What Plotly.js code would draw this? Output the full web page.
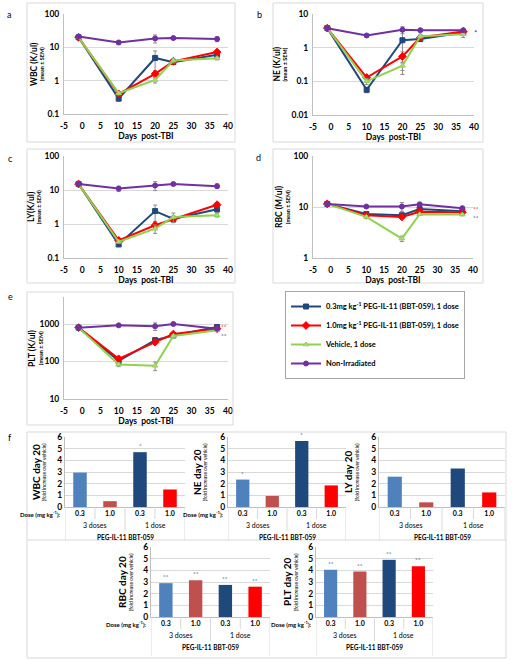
<!DOCTYPE html>
<html><head><meta charset="utf-8">
<script src="https://cdn.plot.ly/plotly-3.0.1.min.js"></script>
<style>html,body{margin:0;padding:0;background:#fff}#chart{width:512px;height:660px}</style>
</head><body><div id="chart"></div>
<script>
// ---------- data ----------
const days = [-1, 10, 20, 25, 37];
const dayTicks = [-5, 0, 5, 10, 15, 20, 25, 30, 35, 40];
const seriesNames = [
  '0.3mg kg<sup>-1</sup> PEG-IL-11 (BBT-059), 1 dose',
  '1.0mg kg<sup>-1</sup> PEG-IL-11 (BBT-059), 1 dose',
  'Vehicle, 1 dose',
  'Non-Irradiated'
];

const wbcLow  = [20, 0.29, 4.8, 3.6, 6.0];
const wbcHigh = [20, 0.40, 1.6, 3.8, 7.2];
const wbcVeh  = [20, 0.42, 1.05, 4.0, 4.7];
const wbcNon  = [21, 14, 18.5, 19, 17.8];
const wbcErrLow  = [0, 0.05, 3.0, 0.5, 1.0];
const wbcErrHigh = [0, 0.05, 0.4, 0.4, 1.0];
const wbcErrVeh  = [0, 0.05, 0.2, 0.6, 0.5];
const wbcErrNon  = [0, 2.0, 5.0, 1.5, 3.0];
const wbcTicks = [0.1, 1, 10, 100];

const neLow  = [3.8, 0.056, 1.66, 1.8, 2.8];
const neHigh = [3.8, 0.13, 0.55, 2.0, 3.0];
const neVeh  = [3.8, 0.10, 0.29, 2.2, 2.5];
const neNon  = [3.8, 2.3, 3.4, 3.3, 3.3];
const neErrLow  = [0, 0.01, 1.5, 0.2, 0.5];
const neErrHigh = [0, 0.02, 0.2, 0.3, 0.4];
const neErrVeh  = [0, 0.02, 0.08, 0.3, 0.5];
const neErrNon  = [0, 0.2, 0.8, 0.3, 0.4];
const neTicks = [0.01, 0.1, 1, 10];

const lyLow  = [15, 0.25, 2.4, 1.4, 2.7];
const lyHigh = [15, 0.33, 0.92, 1.4, 3.7];
const lyVeh  = [15, 0.30, 0.73, 1.6, 1.8];
const lyNon  = [15, 11, 13.6, 15, 13];
const lyErrLow  = [0, 0.03, 1.2, 0.3, 0.5];
const lyErrHigh = [0, 0.03, 0.2, 0.3, 0.5];
const lyErrVeh  = [0, 0.03, 0.2, 0.5, 0.2];
const lyErrNon  = [0, 2.0, 4.0, 1.0, 2.0];
const lyTicks = [0.1, 1, 10, 100];

const rbcLow  = [11.5, 7.3, 6.9, 9.1, 8.3];
const rbcHigh = [11.5, 6.9, 6.4, 8.1, 7.9];
const rbcVeh  = [11.5, 6.4, 2.4, 7.2, 7.1];
const rbcNon  = [11.5, 10.2, 10.2, 11.3, 9.5];
const rbcErrLow  = [0, 0.3, 0.5, 0.4, 0.3];
const rbcErrHigh = [0, 0.3, 0.5, 0.3, 0.3];
const rbcErrVeh  = [0, 0.3, 0.3, 0.3, 0.3];
const rbcErrNon  = [0, 0.5, 2.0, 0.5, 0.5];
const rbcTicks = [1, 10, 100];

const pltLow  = [800, 104, 371, 494, 830];
const pltHigh = [800, 118, 327, 540, 750];
const pltVeh  = [800, 83, 77, 480, 680];
const pltNon  = [800, 920, 870, 1000, 750];
const pltErrLow  = [0, 10, 50, 40, 80];
const pltErrHigh = [0, 10, 40, 40, 60];
const pltErrVeh  = [0, 10, 20, 40, 50];
const pltErrNon  = [0, 50, 200, 50, 50];
const pltTicks = [10, 100, 1000];

const doseLabels = ['0.3', '1.0', '0.3', '1.0'];
const regimenLabels = ['3 doses', '1 dose'];
const drugLabel = 'PEG-IL-11 BBT-059';
const wbcFold = [2.95, 0.5, 4.7, 1.5];
const neFold  = [2.35, 0.95, 5.65, 1.85];
const lyFold  = [2.6, 0.4, 3.3, 1.25];
const rbcFold = [2.9, 3.15, 2.75, 2.6];
const pltFold = [4.05, 3.9, 4.9, 4.35];
const wbcSig = ['', '', '*', ''];
const neSig  = ['*', '', '*', ''];
const lySig  = ['', '', '', ''];
const rbcSig = ['**', '**', '**', '**'];
const pltSig = ['**', '**', '**', '**'];
const foldTicks = [0, 1, 2, 3, 4, 5, 6];

// ---------- styling / layout helpers ----------
const W = 512, H = 660;
const px = x => x / W;
const py = y => 1 - y / H;
const F = 'Lato, "Open Sans", "Liberation Sans", sans-serif';
const lineColors = ['#1F497D', '#FF0000', '#92D050', '#7030A0'];
const markerFill = ['#1F497D', '#FF0000', '#B5DA86', '#7030A0'];
const symbols = ['square', 'diamond', 'triangle-up', 'circle'];
const barColors = ['#4F81BD', '#C0504D', '#1F497D', '#FF0000'];
const frameColor = '#d9d9d9';

const layout = {
  width: W, height: H, margin: {l: 0, r: 0, t: 0, b: 0},
  paper_bgcolor: '#fff', plot_bgcolor: '#fff',
  font: {family: F, color: '#000'},
  showlegend: true,
  legend: {
    x: px(285), y: py(335), xanchor: 'left', yanchor: 'middle',
    bordercolor: '#a6a6a6', borderwidth: 1, bgcolor: '#fff',
    font: {family: F, size: 7.5, weight: 'bold', color: '#000'},
    itemwidth: 30, tracegroupgap: 0
  },
  annotations: [], shapes: []
};
const traces = [];

function ann(text, x, y, opts) {
  layout.annotations.push(Object.assign({
    text, x, y, xref: 'paper', yref: 'paper', showarrow: false,
    xanchor: 'center', yanchor: 'middle',
    font: {family: F, size: 9, color: '#000'}
  }, opts || {}));
}
function box(x0, y0, x1, y1) {
  layout.shapes.push({type: 'rect', xref: 'paper', yref: 'paper',
    x0: px(x0), x1: px(x1), y0: py(y1), y1: py(y0),
    line: {color: frameColor, width: 1}});
}

// ---------- line panels ----------
const linePanels = [
  {s: [wbcLow, wbcHigh, wbcVeh, wbcNon], e: [wbcErrLow, wbcErrHigh, wbcErrVeh, wbcErrNon], ticks: wbcTicks,
   yr: [-1, 2], title: 'WBC (K/ul)', xd: [64, 228], yd: [14, 114], tx: 34, sx: 42, letter: 'a', lx: 9, ly: 15,
   frame: [27, 3, 235, 142]},
  {s: [neLow, neHigh, neVeh, neNon], e: [neErrLow, neErrHigh, neErrVeh, neErrNon], ticks: neTicks,
   yr: [-2, 1], title: 'NE (K/ul)', xd: [313, 474], yd: [14, 115], tx: 276, sx: 284, letter: 'b', lx: 259, ly: 15,
   frame: [273, 3, 483, 142]},
  {s: [lyLow, lyHigh, lyVeh, lyNon], e: [lyErrLow, lyErrHigh, lyErrVeh, lyErrNon], ticks: lyTicks,
   yr: [-1, 2], title: 'LY(K/ul)', xd: [64, 228], yd: [156, 258], tx: 31, sx: 39, letter: 'c', lx: 10, ly: 158,
   frame: [27, 149, 235, 283]},
  {s: [rbcLow, rbcHigh, rbcVeh, rbcNon], e: [rbcErrLow, rbcErrHigh, rbcErrVeh, rbcErrNon], ticks: rbcTicks,
   yr: [0, 2], title: 'RBC (M/ul)', xd: [313, 473], yd: [156, 258], tx: 279, sx: 288, letter: 'd', lx: 258, ly: 157,
   frame: [273, 149, 483, 283]},
  {s: [pltLow, pltHigh, pltVeh, pltNon], e: [pltErrLow, pltErrHigh, pltErrVeh, pltErrNon], ticks: pltTicks,
   yr: [1, 3.72], title: 'PLT (K/ul)', xd: [64, 228], yd: [297, 399], tx: 32, sx: 41, letter: 'e', lx: 10, ly: 297,
   frame: [27, 292, 233, 425]}
];

linePanels.forEach((p, i) => {
  const n = i + 1, suf = n === 1 ? '' : String(n);
  const xa = 'x' + suf, ya = 'y' + suf;
  layout['xaxis' + suf] = {
    domain: [px(p.xd[0]), px(p.xd[1])], anchor: ya, range: [-5, 40],
    tickvals: dayTicks, ticktext: dayTicks.map(String),
    showgrid: false, zeroline: false, showline: true, linecolor: '#bfbfbf', ticks: '',
    ticklabelstandoff: 4,
    tickfont: {family: F, size: 8.5, weight: 'bold', color: '#000'},
    title: {text: 'Days\u00a0 post-TBI', font: {family: F, size: 8.5, weight: 'bold', color: '#000'}, standoff: 1},
    fixedrange: true
  };
  layout['yaxis' + suf] = {
    domain: [py(p.yd[1]), py(p.yd[0])], anchor: xa, type: 'log', range: p.yr,
    tickvals: p.ticks, ticktext: p.ticks.map(String),
    showgrid: true, gridcolor: '#d9d9d9', showline: true, linecolor: '#bfbfbf',
    zeroline: false, ticks: '', ticklabelstandoff: 2,
    tickfont: {family: F, size: 8.5, weight: 'bold', color: '#000'},
    fixedrange: true
  };
  p.s.forEach((ser, k) => {
    traces.push({
      type: 'scatter', mode: 'lines+markers', x: days, y: ser, xaxis: xa, yaxis: ya,
      name: seriesNames[k], showlegend: i === 0, legendgroup: 'g' + k,
      line: {color: lineColors[k], width: 2},
      marker: {symbol: symbols[k], size: k === 1 ? 6 : 5, color: markerFill[k],
               line: {color: lineColors[k], width: 1}},
      error_y: {type: 'data', array: p.e[k], visible: true, color: '#8c8c8c', thickness: 1, width: 2}
    });
  });
  const mid = (p.yd[0] + p.yd[1]) / 2;
  ann('<b>' + p.title + '</b>', px(p.tx), py(mid), {textangle: -90, font: {family: F, size: 8.5, color: '#000'}});
  ann('<b>(mean ± SEM)</b>', px(p.sx), py(mid), {textangle: -90, font: {family: F, size: 5.5, color: '#000'}});
  ann(p.letter, px(p.lx), py(p.ly), {font: {family: F, size: 9, color: '#000'}});
  box(p.frame[0], p.frame[1], p.frame[2], p.frame[3]);
});

// significance marks at line ends
ann('*', px(475), py(33), {font: {family: F, size: 8, color: '#1F497D'}});
ann('**', px(476), py(208), {font: {family: F, size: 6.5, color: '#FF0000'}});
ann('**', px(476), py(217), {font: {family: F, size: 6.5, color: '#1F497D'}});
ann('**', px(224), py(326), {font: {family: F, size: 6.5, color: '#FF0000'}});
ann('**', px(224), py(335), {font: {family: F, size: 6.5, color: '#1F497D'}});

// ---------- bar panels ----------
const barPanels = [
  {v: wbcFold, sig: wbcSig, title: 'WBC day 20', xd: [65, 185], yd: [437, 507], tx: 36, sx: 44, dose: true, bottom: 540},
  {v: neFold, sig: neSig, title: 'NE day 20', xd: [228, 346], yd: [437, 507], tx: 197, sx: 205, dose: true, bottom: 540},
  {v: lyFold, sig: lySig, title: 'LY day 20', xd: [379, 505], yd: [437, 507], tx: 348, sx: 357, dose: false, bottom: 540},
  {v: rbcFold, sig: rbcSig, title: 'RBC day 20', xd: [151, 270], yd: [547, 617], tx: 122, sx: 131, dose: true, bottom: 656},
  {v: pltFold, sig: pltSig, title: 'PLT day 20', xd: [316, 433], yd: [547, 617], tx: 287, sx: 296, dose: true, bottom: 656}
];
const catIdx = doseLabels.map((_, i) => i);

barPanels.forEach((p, j) => {
  const n = 6 + j, suf = String(n);
  const xa = 'x' + suf, ya = 'y' + suf;
  layout['xaxis' + suf] = {
    domain: [px(p.xd[0]), px(p.xd[1])], anchor: ya, range: [-0.5, catIdx.length - 0.5],
    tickvals: catIdx, ticktext: doseLabels, showgrid: false, zeroline: false,
    showline: true, linecolor: '#bfbfbf', ticks: '',
    tickfont: {family: F, size: 7, weight: 'bold', color: '#000'}, fixedrange: true
  };
  layout['yaxis' + suf] = {
    domain: [py(p.yd[1]), py(p.yd[0])], anchor: xa, range: [0, 6],
    tickvals: foldTicks, ticktext: foldTicks.map(String),
    showgrid: true, gridcolor: '#d9d9d9', showline: true, linecolor: '#bfbfbf',
    zeroline: false, ticks: '',
    tickfont: {family: F, size: 8.5, weight: 'bold', color: '#000'}, fixedrange: true
  };
  traces.push({
    type: 'bar', x: catIdx, y: p.v, xaxis: xa, yaxis: ya, width: 0.45,
    marker: {color: barColors}, showlegend: false, hoverinfo: 'skip'
  });
  p.sig.forEach((s, i) => {
    if (!s) return;
    layout.annotations.push({text: s, x: i, y: p.v[i], xref: xa, yref: ya, yanchor: 'bottom',
      yshift: 1, showarrow: false, font: {family: F, size: 6.5, color: '#3a5a8c'}});
  });
  const axisY = p.yd[1];
  regimenLabels.forEach((r, g) => {
    layout.annotations.push({text: r, x: g * 2 + 0.5, y: py(axisY + 18), xref: xa, yref: 'paper',
      showarrow: false, xanchor: 'center', yanchor: 'middle', font: {family: F, size: 7, color: '#000'}});
  });
  layout.annotations.push({text: '<b>' + drugLabel + '</b>', x: (catIdx.length - 1) / 2, y: py(axisY + 30),
    xref: xa, yref: 'paper', showarrow: false, xanchor: 'center', yanchor: 'middle',
    font: {family: F, size: 6.5, color: '#000'}});
  if (p.dose) {
    ann('<b>Dose (mg kg<sup>-1</sup>):</b>', px(p.xd[0] - 2), py(axisY + 7),
      {xanchor: 'right', font: {family: F, size: 6, color: '#000'}});
  }
  const seg = (x, y0, y1) => layout.shapes.push({type: 'line', xref: xa, yref: 'paper',
    x0: x, x1: x, y0: py(y0), y1: py(y1), line: {color: frameColor, width: 1}});
  seg(0.5, axisY, axisY + 12);
  seg(2.5, axisY, axisY + 12);
  seg(1.5, axisY, axisY + 24);
  seg(-0.5, axisY, p.bottom);
  seg(catIdx.length - 0.5, axisY, p.bottom);
  const mid = (p.yd[0] + p.yd[1]) / 2;
  ann('<b>' + p.title + '</b>', px(p.tx), py(mid), {textangle: -90, font: {family: F, size: 10, color: '#000'}});
  ann('(fold increase over vehicle)', px(p.sx), py(mid), {textangle: -90, font: {family: F, size: 5, color: '#000'}});
});

ann('f', px(10), py(437), {font: {family: F, size: 9, color: '#000'}});
box(27, 432, 506, 658);
layout.shapes.push({type: 'line', xref: 'paper', yref: 'paper', x0: px(27), x1: px(506), y0: py(540), y1: py(540),
  line: {color: frameColor, width: 1}});

Plotly.newPlot('chart', traces, layout, {displayModeBar: false, staticPlot: true});
</script>
</body></html>
